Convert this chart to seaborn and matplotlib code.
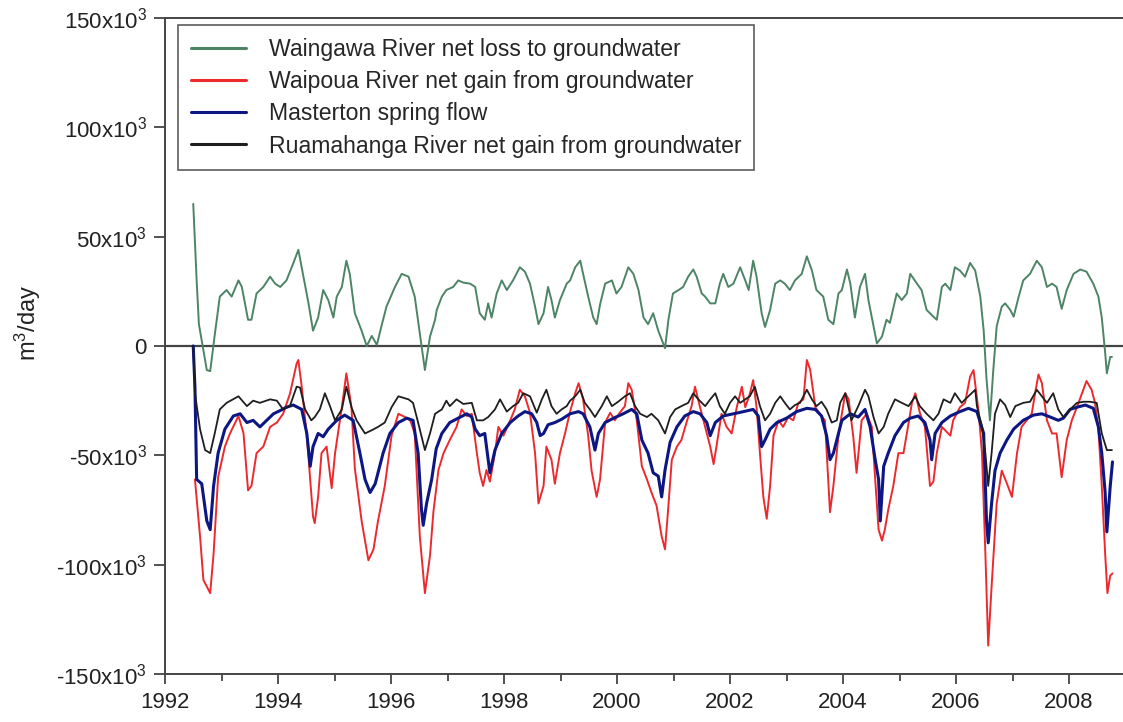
import matplotlib
matplotlib.use("Agg")
import matplotlib.pyplot as plt
from matplotlib.ticker import FuncFormatter, MultipleLocator
import numpy as np
import pandas as pd
import seaborn as sns

# values in 10^3 m3/day
waingawa_yr = [1992.50, 1992.56, 1992.60, 1992.74, 1992.80, 1992.88, 1992.97, 1993.09, 1993.18, 1993.30,
               1993.36, 1993.47, 1993.53, 1993.62, 1993.74, 1993.86, 1993.95, 1994.04, 1994.15, 1994.27,
               1994.36, 1994.54, 1994.62, 1994.71, 1994.80, 1994.89, 1994.98, 1995.04, 1995.13, 1995.21,
               1995.27, 1995.36, 1995.48, 1995.57, 1995.66, 1995.75, 1995.83, 1995.92, 1996.07, 1996.19,
               1996.31, 1996.42, 1996.51, 1996.60, 1996.69, 1996.78, 1996.81, 1996.90, 1996.98, 1997.10,
               1997.19, 1997.28, 1997.40, 1997.49, 1997.57, 1997.66, 1997.72, 1997.78, 1997.87, 1997.96,
               1998.05, 1998.16, 1998.28, 1998.37, 1998.46, 1998.55, 1998.61, 1998.70, 1998.78, 1998.84,
               1998.90, 1998.99, 1999.11, 1999.17, 1999.26, 1999.35, 1999.40, 1999.49, 1999.58, 1999.64,
               1999.70, 1999.79, 1999.91, 1999.99, 2000.08, 2000.20, 2000.29, 2000.38, 2000.47, 2000.55,
               2000.64, 2000.73, 2000.85, 2000.91, 2000.99, 2001.09, 2001.17, 2001.26, 2001.35, 2001.41,
               2001.50, 2001.56, 2001.65, 2001.74, 2001.82, 2001.88, 2001.97, 2002.06, 2002.18, 2002.27,
               2002.33, 2002.41, 2002.47, 2002.56, 2002.62, 2002.71, 2002.80, 2002.89, 2002.97, 2003.06,
               2003.15, 2003.27, 2003.36, 2003.45, 2003.53, 2003.65, 2003.74, 2003.83, 2003.92, 2003.98,
               2004.07, 2004.13, 2004.21, 2004.30, 2004.39, 2004.45, 2004.54, 2004.60, 2004.69, 2004.77,
               2004.83, 2004.95, 2005.04, 2005.13, 2005.19, 2005.31, 2005.39, 2005.48, 2005.60, 2005.66,
               2005.75, 2005.81, 2005.90, 2005.98, 2006.07, 2006.16, 2006.25, 2006.34, 2006.43, 2006.49,
               2006.54, 2006.60, 2006.66, 2006.72, 2006.81, 2006.87, 2006.96, 2007.02, 2007.11, 2007.19,
               2007.31, 2007.43, 2007.52, 2007.61, 2007.70, 2007.78, 2007.87, 2007.96, 2008.08, 2008.20,
               2008.31, 2008.43, 2008.52, 2008.58, 2008.64, 2008.67, 2008.73, 2008.76]
waingawa = [65, 30, 10, -11, -11.5, 5, 22.6, 25.6, 22.6, 30,
            27, 12, 12, 24, 27, 31.7, 28.5, 27, 30, 37.8,
            44, 19.5, 7, 13, 25.6, 21, 13, 22.6, 27, 39,
            33, 15, 7, 0, 4.6, 0.5, 9, 18, 27, 33,
            31.7, 22.6, 5.8, -11, 4.3, 12, 16.5, 22.6, 25.6, 27,
            30, 29, 28.5, 27, 15, 12, 19.5, 13, 24, 30,
            25.6, 30, 36, 34, 28.5, 18, 10, 15, 27, 21,
            13, 21, 28.5, 30, 36, 39, 33, 22.6, 13, 10,
            19, 28.5, 30, 24, 27, 36, 33, 25.6, 13, 10,
            15, 7, -1, 12, 24, 25.6, 27, 31.7, 35, 31.7,
            24, 22.6, 19.5, 19.5, 28.5, 33, 27, 28.5, 36, 30,
            25.6, 39, 31.7, 15, 8.7, 16.5, 28.5, 30, 28.5, 25.6,
            30, 33, 41, 34.5, 25.6, 22.6, 12, 10, 24, 25.6,
            35, 28.5, 13, 27, 33, 21, 9, 1.2, 4.3, 12,
            10.6, 24, 21, 24, 33, 28.5, 25.6, 16.5, 13.4, 12,
            27, 28.5, 25.6, 36, 34.5, 31.7, 38, 34.5, 22.6, 7,
            -15, -34, -11, 9, 18, 19.5, 16.5, 13.4, 22.6, 30,
            33, 39, 36, 27, 28.5, 27, 17, 25.6, 33, 35,
            34, 28.5, 22.6, 13, -3, -12.5, -5, -5]

waipoua_yr = [1992.53, 1992.62, 1992.68, 1992.74, 1992.80, 1992.86, 1992.94, 1993.06, 1993.15, 1993.30,
              1993.39, 1993.47, 1993.53, 1993.62, 1993.74, 1993.86, 1993.98, 1994.09, 1994.21, 1994.33,
              1994.36, 1994.42, 1994.51, 1994.62, 1994.65, 1994.71, 1994.77, 1994.86, 1994.95, 1995.01,
              1995.13, 1995.21, 1995.30, 1995.36, 1995.48, 1995.60, 1995.69, 1995.77, 1995.89, 1996.01,
              1996.13, 1996.25, 1996.34, 1996.42, 1996.51, 1996.60, 1996.69, 1996.75, 1996.84, 1996.93,
              1997.04, 1997.16, 1997.25, 1997.34, 1997.43, 1997.52, 1997.57, 1997.63, 1997.69, 1997.75,
              1997.84, 1997.90, 1997.99, 1998.11, 1998.19, 1998.28, 1998.37, 1998.46, 1998.55, 1998.61,
              1998.70, 1998.75, 1998.84, 1998.90, 1998.99, 1999.08, 1999.17, 1999.26, 1999.32, 1999.40,
              1999.49, 1999.55, 1999.64, 1999.70, 1999.79, 1999.88, 1999.96, 2000.05, 2000.14, 2000.20,
              2000.26, 2000.35, 2000.44, 2000.53, 2000.61, 2000.70, 2000.79, 2000.85, 2000.91, 2000.97,
              2001.06, 2001.14, 2001.23, 2001.32, 2001.38, 2001.47, 2001.56, 2001.65, 2001.71, 2001.76,
              2001.85, 2001.94, 2002.03, 2002.12, 2002.21, 2002.27, 2002.35, 2002.41, 2002.47, 2002.53,
              2002.59, 2002.65, 2002.71, 2002.77, 2002.86, 2002.94, 2003.03, 2003.12, 2003.21, 2003.30,
              2003.36, 2003.42, 2003.51, 2003.59, 2003.68, 2003.77, 2003.83, 2003.92, 2003.98, 2004.04,
              2004.10, 2004.18, 2004.24, 2004.33, 2004.42, 2004.51, 2004.57, 2004.63, 2004.69, 2004.74,
              2004.80, 2004.89, 2004.98, 2005.07, 2005.13, 2005.22, 2005.28, 2005.36, 2005.45, 2005.54,
              2005.60, 2005.66, 2005.75, 2005.90, 2005.95, 2006.07, 2006.16, 2006.25, 2006.31, 2006.40,
              2006.46, 2006.52, 2006.57, 2006.63, 2006.72, 2006.81, 2006.90, 2006.99, 2007.08, 2007.16,
              2007.25, 2007.34, 2007.40, 2007.46, 2007.52, 2007.61, 2007.70, 2007.78, 2007.87, 2007.96,
              2008.05, 2008.14, 2008.23, 2008.31, 2008.40, 2008.46, 2008.52, 2008.58, 2008.64, 2008.68,
              2008.73, 2008.77]
waipoua = [-61, -87, -107, -110, -113, -95, -60, -46, -40, -32,
           -40, -66, -64, -49, -46, -37, -35, -31, -22, -8,
           -6.4, -18.6, -41, -78, -81, -69, -49, -46, -65, -49,
           -28, -12.5, -28, -56, -80, -98, -93, -80, -64, -41,
           -31, -32.5, -34, -40, -87, -113, -96, -76, -56.7, -49,
           -43, -37, -29, -32, -31, -49, -58, -64, -56.7, -62,
           -49, -37, -41, -34, -29, -20, -23, -30.5, -49, -72,
           -64, -46, -52, -63, -49, -40, -30, -21.6, -17, -24.4,
           -41, -57, -69, -61, -35, -30.5, -34, -30.5, -27.5, -17,
           -20, -34, -55, -61, -67, -73, -87, -93, -73, -52,
           -46, -43, -35, -27.5, -18.6, -28, -37, -46, -54, -46,
           -31, -37, -40, -28, -18.6, -28, -22, -15.6, -28, -49,
           -69, -79, -64, -41, -34, -37, -32.5, -34, -26, -24.4,
           -6.4, -11, -28, -31, -34, -76, -64, -41, -31, -21.6,
           -24.4, -41, -58, -34, -31, -37, -61, -84, -89, -84,
           -75, -64, -49, -49, -40, -26, -21.6, -30.5, -37, -64,
           -62, -49, -37, -41, -34, -28, -26, -14, -11, -30,
           -49, -95, -137, -110, -72, -57, -62.8, -69, -49, -37,
           -34, -31, -21.6, -13, -17, -34, -40, -40, -60, -43,
           -34, -28, -21.6, -16, -20, -26, -38, -64, -95, -113,
           -105, -104]

masterton_yr = [1992.50, 1992.53, 1992.56, 1992.65, 1992.74, 1992.80, 1992.86, 1992.94, 1993.06, 1993.21,
                1993.33, 1993.45, 1993.56, 1993.68, 1993.80, 1993.92, 1994.04, 1994.15, 1994.27, 1994.42,
                1994.51, 1994.57, 1994.62, 1994.71, 1994.80, 1994.89, 1995.04, 1995.18, 1995.33, 1995.45,
                1995.54, 1995.63, 1995.72, 1995.77, 1995.86, 1995.98, 1996.13, 1996.28, 1996.39, 1996.48,
                1996.54, 1996.57, 1996.63, 1996.72, 1996.80, 1996.90, 1997.04, 1997.19, 1997.34, 1997.43,
                1997.49, 1997.57, 1997.66, 1997.75, 1997.84, 1997.96, 1998.11, 1998.25, 1998.37, 1998.49,
                1998.58, 1998.64, 1998.70, 1998.78, 1998.90, 1999.02, 1999.17, 1999.32, 1999.40, 1999.52,
                1999.61, 1999.67, 1999.79, 1999.94, 2000.11, 2000.26, 2000.35, 2000.44, 2000.55, 2000.64,
                2000.73, 2000.79, 2000.85, 2000.94, 2001.06, 2001.20, 2001.35, 2001.47, 2001.59, 2001.65,
                2001.74, 2001.88, 2002.06, 2002.24, 2002.41, 2002.50, 2002.56, 2002.62, 2002.71, 2002.83,
                2003.00, 2003.18, 2003.36, 2003.51, 2003.62, 2003.71, 2003.77, 2003.83, 2003.92, 2003.98,
                2004.13, 2004.27, 2004.39, 2004.48, 2004.57, 2004.63, 2004.66, 2004.72, 2004.80, 2004.92,
                2005.07, 2005.19, 2005.33, 2005.45, 2005.54, 2005.57, 2005.63, 2005.75, 2005.90, 2006.07,
                2006.22, 2006.37, 2006.49, 2006.54, 2006.57, 2006.63, 2006.69, 2006.78, 2006.90, 2007.02,
                2007.19, 2007.37, 2007.52, 2007.67, 2007.81, 2007.90, 2008.02, 2008.14, 2008.29, 2008.43,
                2008.52, 2008.58, 2008.64, 2008.67, 2008.73, 2008.77]
masterton = [0, -19, -61, -63, -80, -84, -64, -49, -38, -32,
             -31, -35, -34, -37, -34, -31, -29.5, -28, -27, -29,
             -40, -55, -46, -40, -41.5, -38, -34, -31.6, -34, -49,
             -61, -67, -63, -58, -49, -40, -35, -33, -34, -49,
             -75, -82, -72, -61, -47, -40, -35, -33, -31, -32.5,
             -38, -41, -40, -58, -47.6, -40, -35, -32, -30, -31,
             -35, -41, -40, -36, -35, -33.5, -31, -30, -31, -37,
             -47.6, -40, -35, -33, -31, -29, -31, -43, -49, -58,
             -59.5, -69, -56.7, -44, -37, -32, -30, -31, -35, -41,
             -35, -32, -31, -30, -29, -32, -46, -43, -38, -35,
             -33, -30, -28.5, -29, -32, -41, -52, -49, -40, -34,
             -31, -32.5, -29, -37, -52, -61, -80, -55, -49, -41,
             -35, -33, -32, -35, -43, -52, -40, -35, -32, -30,
             -28.5, -30, -40, -80, -90, -72, -57, -49, -43, -38,
             -34, -31.6, -31, -32.5, -34, -33, -29, -28, -27, -28.5,
             -37, -49, -67, -85, -64, -53]

ruamahanga_yr = [1992.50, 1992.53, 1992.62, 1992.71, 1992.80, 1992.88, 1992.97, 1993.09, 1993.30, 1993.45,
                 1993.56, 1993.68, 1993.86, 1993.98, 1994.09, 1994.21, 1994.33, 1994.39, 1994.48, 1994.59,
                 1994.65, 1994.74, 1994.83, 1994.92, 1995.01, 1995.13, 1995.21, 1995.30, 1995.39, 1995.54,
                 1995.66, 1995.77, 1995.89, 1996.01, 1996.13, 1996.31, 1996.39, 1996.48, 1996.60, 1996.69,
                 1996.78, 1996.90, 1996.98, 1997.04, 1997.16, 1997.28, 1997.43, 1997.52, 1997.63, 1997.72,
                 1997.84, 1997.93, 1998.05, 1998.16, 1998.25, 1998.34, 1998.46, 1998.58, 1998.67, 1998.75,
                 1998.84, 1998.93, 1999.02, 1999.11, 1999.17, 1999.26, 1999.35, 1999.43, 1999.52, 1999.61,
                 1999.73, 1999.82, 1999.91, 2000.02, 2000.14, 2000.23, 2000.32, 2000.41, 2000.53, 2000.61,
                 2000.73, 2000.85, 2000.94, 2001.03, 2001.14, 2001.26, 2001.35, 2001.44, 2001.56, 2001.65,
                 2001.74, 2001.82, 2001.91, 2002.00, 2002.09, 2002.18, 2002.27, 2002.35, 2002.44, 2002.53,
                 2002.62, 2002.71, 2002.80, 2002.89, 2002.97, 2003.06, 2003.15, 2003.24, 2003.36, 2003.45,
                 2003.53, 2003.62, 2003.71, 2003.80, 2003.89, 2003.95, 2004.04, 2004.15, 2004.27, 2004.39,
                 2004.45, 2004.54, 2004.63, 2004.72, 2004.80, 2004.92, 2005.04, 2005.16, 2005.28, 2005.36,
                 2005.48, 2005.60, 2005.69, 2005.78, 2005.90, 2005.98, 2006.10, 2006.22, 2006.34, 2006.37,
                 2006.46, 2006.52, 2006.57, 2006.63, 2006.69, 2006.78, 2006.87, 2006.96, 2007.05, 2007.19,
                 2007.31, 2007.43, 2007.52, 2007.61, 2007.72, 2007.81, 2007.90, 2008.02, 2008.14, 2008.26,
                 2008.37, 2008.49, 2008.58, 2008.67, 2008.76]
ruamahanga = [0, -21.6, -38, -47.6, -49, -40, -29, -26, -23, -27.5,
              -25, -26, -24.4, -25, -29, -27.5, -18.6, -19, -29, -34,
              -32.5, -29, -21.6, -27.5, -34, -29, -18.6, -28, -34, -40,
              -38.5, -37, -35, -28, -23, -24.4, -26, -35, -47.6, -40,
              -31, -29, -25, -27.5, -24.4, -26.5, -26, -34, -34, -32.5,
              -29, -24.4, -30, -27.5, -26, -21.6, -23, -30.5, -24.4, -20,
              -27.5, -31, -29, -27.5, -25, -23, -20, -26, -29, -32.5,
              -27.5, -23, -27.5, -25.5, -23, -21.6, -27.5, -31, -32.5, -31,
              -34, -40, -32.5, -29, -27.5, -26, -21.6, -24.4, -27.5, -24.4,
              -21.6, -27.5, -31, -26, -23, -26, -24.4, -23, -18.6, -27.5,
              -34, -31, -26, -23, -26, -29, -27, -26, -20, -24.4,
              -27.5, -25.5, -29, -35, -34, -26, -21.6, -34, -27.5, -20,
              -23, -32.5, -40, -37, -31, -24.4, -26, -27.5, -23, -27.5,
              -31, -34, -31, -24.4, -26, -21.6, -26, -23, -20, -27.5,
              -37, -49, -64, -49, -31, -24.4, -27, -32.5, -27.5, -26,
              -25.5, -20, -23, -26, -21.6, -29, -32.5, -29, -26, -25.5,
              -25.5, -26, -40, -47.6, -47.6]

series_names = ["Waingawa River net loss to groundwater",
                "Waipoua River net gain from groundwater",
                "Masterton spring flow",
                "Ruamahanga River net gain from groundwater"]
colors = ["#4d8466", "#ec2a2e", "#0c1784", "#1e1e1e"]
widths = [1.4, 1.4, 2.2, 1.3]

sns.set_theme(style="white")
plt.rcParams['font.family'] = ['Liberation Sans', 'DejaVu Sans']
plt.rcParams['mathtext.fontset'] = 'custom'
plt.rcParams['mathtext.rm'] = 'Liberation Sans'
plt.rcParams['mathtext.it'] = 'Liberation Sans:italic'
plt.rcParams['mathtext.default'] = 'regular'

fig = plt.figure(figsize=(11.23, 7.22), dpi=100)
ax = fig.add_axes([165 / 1123, 48 / 722, 958 / 1123, 656 / 722])

data = [(waingawa_yr, waingawa), (waipoua_yr, waipoua),
        (masterton_yr, masterton), (ruamahanga_yr, ruamahanga)]
for (yr, vals), name, c, lw in zip(data, series_names, colors, widths):
    df = pd.DataFrame({'year': yr, 'flow': np.array(vals) * 1000})
    sns.lineplot(data=df, x='year', y='flow', color=c, linewidth=lw,
                 label=name, estimator=None, sort=False, ax=ax)

ax.axhline(0, color='#444444', linewidth=1.6, zorder=0)

ax.set_xlim(1992, 1992 + 958 / 56.5)
ax.set_ylim(-150000, 150000)
ax.xaxis.set_major_locator(MultipleLocator(2))
ax.xaxis.set_minor_locator(MultipleLocator(1))
ax.yaxis.set_major_locator(MultipleLocator(50000))
ax.yaxis.set_major_formatter(FuncFormatter(
    lambda v, p: "0" if v == 0 else r"%dx10$^{3}$" % int(round(v / 1000))))
ax.xaxis.set_major_formatter(FuncFormatter(lambda v, p: "%d" % v))

ax.tick_params(axis='both', which='both', direction='out', color='#333333',
               labelsize=16, labelcolor='#222222')
ax.tick_params(axis='x', which='major', length=7, width=1.2, pad=6)
ax.tick_params(axis='x', which='minor', length=5, width=1.2)
ax.tick_params(axis='y', which='major', length=8, width=1.2, pad=5)
ax.tick_params(bottom=True, left=True, which='both')

for side in ['left', 'bottom', 'top']:
    ax.spines[side].set_color('#444444')
    ax.spines[side].set_linewidth(1.4)
ax.spines['right'].set_visible(False)

ax.set_xlabel('')
ax.set_ylabel(r'm$^{3}$/day', fontsize=17, color='#222222')
ax.yaxis.set_label_coords(-0.127, 0.535)

leg = ax.legend(loc='upper left', bbox_to_anchor=(0.0136, 0.989), borderaxespad=0,
                fontsize=16.6, frameon=True, fancybox=False, edgecolor='#333333',
                handlelength=2.4, handletextpad=1.0, labelspacing=0.4, borderpad=0.55)
leg.get_frame().set_linewidth(1.2)
for h in leg.get_lines():
    h.set_linewidth(2.2)

fig.savefig('out.png', dpi=100)
